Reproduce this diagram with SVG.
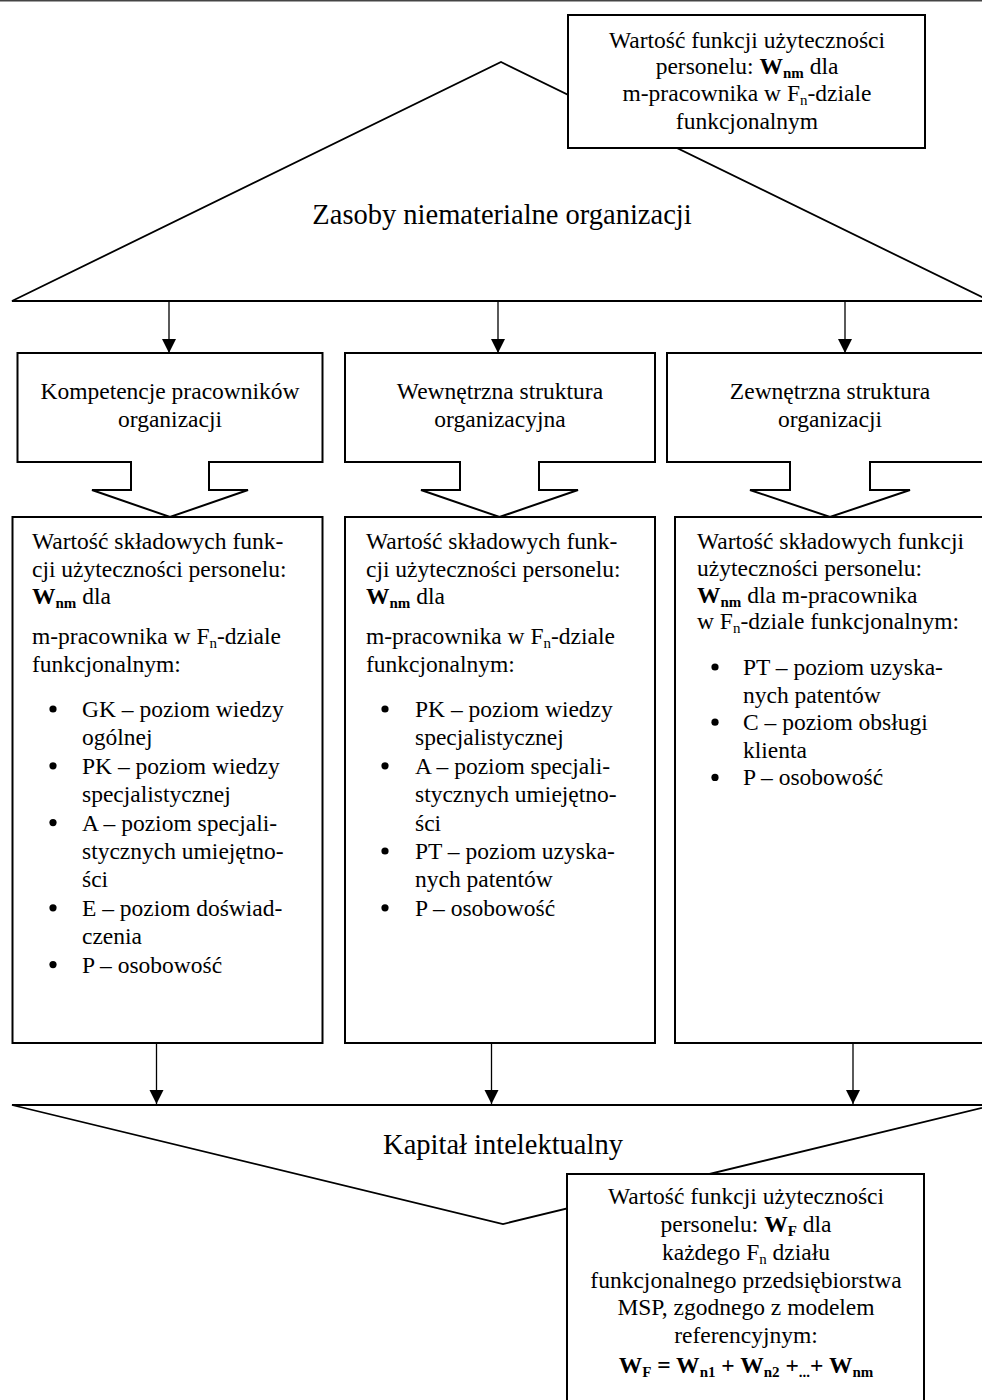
<svg xmlns="http://www.w3.org/2000/svg" width="982" height="1400" viewBox="0 0 982 1400">
  <defs>
    <marker id="arrow" markerWidth="14" markerHeight="15" refX="14" refY="7" orient="auto" markerUnits="userSpaceOnUse">
      <path d="M0,0 L14,7 L0,14 Z" fill="#000"/>
    </marker>
    <style>
      .shape { fill: #fff; stroke: #000; stroke-width: 2; stroke-linejoin: miter; }
      .tri { fill: #fff; stroke: #000; stroke-width: 1.8; }
      .conn { stroke: #000; stroke-width: 1.3; fill: none; }
      text { font-family: "Liberation Serif", "Times New Roman", serif; font-size: 23.5px; fill: #000; }
      .big { font-size: 28.5px; }
      .mid { text-anchor: middle; }
      .b { font-weight: bold; }
      .sub { font-size: 15px; }
      .dot { fill: #000; }
    </style>
  </defs>

  <rect width="982" height="1400" fill="#fff"/>
  <line x1="0" y1="0.7" x2="982" y2="0.7" stroke="#444" stroke-width="1.6"/>

  <!-- Intangible resources triangle -->
  <g id="zasoby">
    <path class="tri" d="M12,301 L501,62 L990,301 Z"/>
    <text class="big mid" x="502" y="224">Zasoby niematerialne organizacji</text>
  </g>

  <!-- Intellectual capital (inverted triangle) -->
  <g id="kapital">
    <path class="tri" d="M12,1105 L994,1105 L503,1224 Z"/>
    <text class="big mid" x="503" y="1154">Kapitał intelektualny</text>
  </g>

  <!-- Note: staff utility value per employee -->
  <g id="wartosc-wnm">
    <rect class="shape" x="568" y="15" width="357" height="133"/>
    <text class="mid" x="747" y="48">Wartość funkcji użyteczności</text>
    <text class="mid" x="747" y="74">personelu: <tspan class="b">W</tspan><tspan class="b sub" dy="4">nm</tspan><tspan dy="-4"> dla</tspan></text>
    <text class="mid" x="747" y="101">m-pracownika w F<tspan class="sub" dy="4">n</tspan><tspan dy="-4">-dziale</tspan></text>
    <text class="mid" x="747" y="129">funkcjonalnym</text>
  </g>

  <!-- Category callouts -->
  <g id="kompetencje">
    <path class="shape" d="M17.5,353 H322.5 V462 H209 V490 H248 L170,517 L92,490 H131 V462 H17.5 Z"/>
    <text class="mid" x="170" y="399">Kompetencje pracowników</text>
    <text class="mid" x="170" y="427">organizacji</text>
  </g>
  <g id="wewnetrzna">
    <path class="shape" d="M345,353 H655 V462 H539 V490 H578 L499.5,517 L421,490 H460 V462 H345 Z"/>
    <text class="mid" x="500" y="399">Wewnętrzna struktura</text>
    <text class="mid" x="500" y="427">organizacyjna</text>
  </g>
  <g id="zewnetrzna">
    <path class="shape" d="M667,353 H994 V462 H870 V490 H910 L830,517 L750,490 H790 V462 H667 Z"/>
    <text class="mid" x="830" y="399">Zewnętrzna struktura</text>
    <text class="mid" x="830" y="427">organizacji</text>
  </g>

  <!-- Component value boxes -->
  <g id="skladowe-1">
    <rect class="shape" x="12.5" y="517" width="310" height="526"/>
    <text x="32" y="549">Wartość składowych funk-</text>
    <text x="32" y="576.6">cji użyteczności personelu:</text>
    <text x="32" y="604"><tspan class="b">W</tspan><tspan class="b sub" dy="4">nm</tspan><tspan dy="-4"> dla</tspan></text>
    <text x="32" y="644">m-pracownika w F<tspan class="sub" dy="4">n</tspan><tspan dy="-4">-dziale</tspan></text>
    <text x="32" y="672">funkcjonalnym:</text>
    <circle class="dot" cx="53" cy="709" r="3.6"/>
    <text x="82" y="717">GK – poziom wiedzy</text>
    <text x="82" y="745.4">ogólnej</text>
    <circle class="dot" cx="53" cy="765.8" r="3.6"/>
    <text x="82" y="773.8">PK – poziom wiedzy</text>
    <text x="82" y="802.2">specjalistycznej</text>
    <circle class="dot" cx="53" cy="822.6" r="3.6"/>
    <text x="82" y="830.6">A – poziom specjali-</text>
    <text x="82" y="859">stycznych umiejętno-</text>
    <text x="82" y="887.4">ści</text>
    <circle class="dot" cx="53" cy="907.8" r="3.6"/>
    <text x="82" y="915.8">E – poziom doświad-</text>
    <text x="82" y="944.2">czenia</text>
    <circle class="dot" cx="53" cy="964.6" r="3.6"/>
    <text x="82" y="972.6">P – osobowość</text>
  </g>

  <g id="skladowe-2">
    <rect class="shape" x="345" y="517" width="310" height="526"/>
    <text x="366" y="549">Wartość składowych funk-</text>
    <text x="366" y="576.6">cji użyteczności personelu:</text>
    <text x="366" y="604"><tspan class="b">W</tspan><tspan class="b sub" dy="4">nm</tspan><tspan dy="-4"> dla</tspan></text>
    <text x="366" y="644">m-pracownika w F<tspan class="sub" dy="4">n</tspan><tspan dy="-4">-dziale</tspan></text>
    <text x="366" y="672">funkcjonalnym:</text>
    <circle class="dot" cx="385" cy="709" r="3.6"/>
    <text x="415" y="717">PK – poziom wiedzy</text>
    <text x="415" y="745.4">specjalistycznej</text>
    <circle class="dot" cx="385" cy="765.8" r="3.6"/>
    <text x="415" y="773.8">A – poziom specjali-</text>
    <text x="415" y="802.2">stycznych umiejętno-</text>
    <text x="415" y="830.6">ści</text>
    <circle class="dot" cx="385" cy="851" r="3.6"/>
    <text x="415" y="859">PT – poziom uzyska-</text>
    <text x="415" y="887.4">nych patentów</text>
    <circle class="dot" cx="385" cy="907.8" r="3.6"/>
    <text x="415" y="915.8">P – osobowość</text>
  </g>

  <g id="skladowe-3">
    <rect class="shape" x="675" y="517" width="312" height="526"/>
    <text x="697" y="549">Wartość składowych funkcji</text>
    <text x="697" y="576">użyteczności personelu:</text>
    <text x="697" y="602.5"><tspan class="b">W</tspan><tspan class="b sub" dy="4">nm</tspan><tspan dy="-4"> dla m-pracownika</tspan></text>
    <text x="697" y="629">w F<tspan class="sub" dy="4">n</tspan><tspan dy="-4">-dziale funkcjonalnym:</tspan></text>
    <circle class="dot" cx="715" cy="667" r="3.6"/>
    <text x="743" y="675">PT – poziom uzyska-</text>
    <text x="743" y="702.6">nych patentów</text>
    <circle class="dot" cx="715" cy="722.2" r="3.6"/>
    <text x="743" y="730.2">C – poziom obsługi</text>
    <text x="743" y="757.8">klienta</text>
    <circle class="dot" cx="715" cy="777.4" r="3.6"/>
    <text x="743" y="785.4">P – osobowość</text>
  </g>

  <!-- Note: staff utility value per functional department -->
  <g id="wartosc-wf">
    <path class="shape" d="M567,1410 V1174 H924 V1410"/>
    <text class="mid" x="746" y="1204">Wartość funkcji użyteczności</text>
    <text class="mid" x="746" y="1232">personelu: <tspan class="b">W</tspan><tspan class="b sub" dy="4">F</tspan><tspan dy="-4"> dla</tspan></text>
    <text class="mid" x="746" y="1259.5">każdego F<tspan class="sub" dy="4">n</tspan><tspan dy="-4"> działu</tspan></text>
    <text class="mid" x="746" y="1287.5">funkcjonalnego przedsiębiorstwa</text>
    <text class="mid" x="746" y="1315">MSP, zgodnego z modelem</text>
    <text class="mid" x="746" y="1342.5">referencyjnym:</text>
    <text class="mid b" x="746" y="1372.5">W<tspan class="sub" dy="4">F</tspan><tspan dy="-4"> = W</tspan><tspan class="sub" dy="4">n1</tspan><tspan dy="-4"> + W</tspan><tspan class="sub" dy="4">n2</tspan><tspan dy="-4"> +</tspan><tspan class="sub" dy="4">...</tspan><tspan dy="-4">+ W</tspan><tspan class="sub" dy="4">nm</tspan></text>
  </g>

  <!-- Connectors -->
  <g id="connectors">
    <line class="conn" x1="169" y1="301" x2="169" y2="353" marker-end="url(#arrow)"/>
    <line class="conn" x1="498" y1="301" x2="498" y2="353" marker-end="url(#arrow)"/>
    <line class="conn" x1="845" y1="301" x2="845" y2="353" marker-end="url(#arrow)"/>
    <line class="conn" x1="156.5" y1="1043" x2="156.5" y2="1104" marker-end="url(#arrow)"/>
    <line class="conn" x1="491.5" y1="1043" x2="491.5" y2="1104" marker-end="url(#arrow)"/>
    <line class="conn" x1="853" y1="1043" x2="853" y2="1104" marker-end="url(#arrow)"/>
  </g>
</svg>
